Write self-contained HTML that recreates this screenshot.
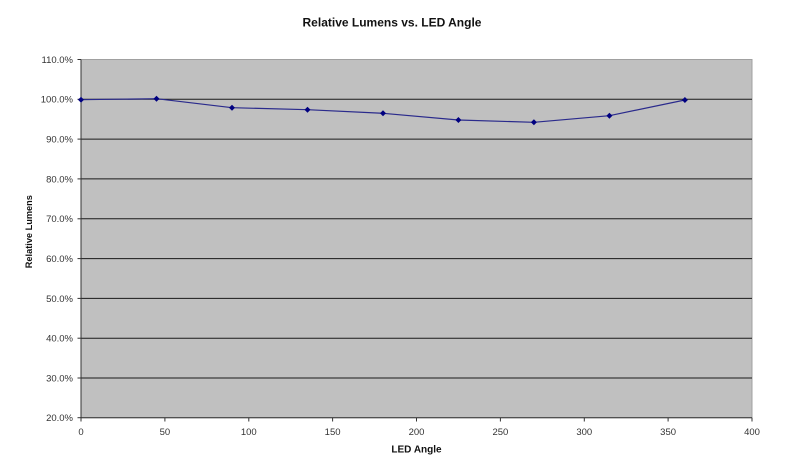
<!DOCTYPE html>
<html><head><meta charset="utf-8"><style>
html,body{margin:0;padding:0;background:#fff;}
svg{display:block;}
text{font-family:"Liberation Sans",Arial,sans-serif;}
</style></head><body>
<svg width="800" height="472" viewBox="0 0 800 472" xmlns="http://www.w3.org/2000/svg">
<rect x="0" y="0" width="800" height="472" fill="#fff"/>
<text x="392" y="26.3" font-size="12" font-weight="bold" text-anchor="middle" fill="#111">Relative Lumens vs. LED Angle</text>
<!-- plot area -->
<rect x="81" y="59.5" width="671" height="358.2" fill="#c0c0c0" stroke="#a0a0a0" stroke-width="1"/>
<g stroke="#1a1a1a" stroke-width="1">
<line x1="81" y1="99.3" x2="752" y2="99.3"/>
<line x1="81" y1="139.1" x2="752" y2="139.1"/>
<line x1="81" y1="178.9" x2="752" y2="178.9"/>
<line x1="81" y1="218.8" x2="752" y2="218.8"/>
<line x1="81" y1="258.6" x2="752" y2="258.6"/>
<line x1="81" y1="298.4" x2="752" y2="298.4"/>
<line x1="81" y1="338.2" x2="752" y2="338.2"/>
<line x1="81" y1="378" x2="752" y2="378"/>
</g>
<!-- axes -->
<g stroke="#333" stroke-width="1">
<line x1="81" y1="59.5" x2="81" y2="417.7"/>
<line x1="81" y1="417.7" x2="752" y2="417.7"/>
<line x1="77.5" y1="59.5" x2="81" y2="59.5"/>
<line x1="77.5" y1="99.3" x2="81" y2="99.3"/>
<line x1="77.5" y1="139.1" x2="81" y2="139.1"/>
<line x1="77.5" y1="178.9" x2="81" y2="178.9"/>
<line x1="77.5" y1="218.8" x2="81" y2="218.8"/>
<line x1="77.5" y1="258.6" x2="81" y2="258.6"/>
<line x1="77.5" y1="298.4" x2="81" y2="298.4"/>
<line x1="77.5" y1="338.2" x2="81" y2="338.2"/>
<line x1="77.5" y1="378" x2="81" y2="378"/>
<line x1="77.5" y1="417.7" x2="81" y2="417.7"/>
<line x1="81" y1="417.7" x2="81" y2="421.5"/>
<line x1="164.9" y1="417.7" x2="164.9" y2="421.5"/>
<line x1="248.8" y1="417.7" x2="248.8" y2="421.5"/>
<line x1="332.6" y1="417.7" x2="332.6" y2="421.5"/>
<line x1="416.5" y1="417.7" x2="416.5" y2="421.5"/>
<line x1="500.4" y1="417.7" x2="500.4" y2="421.5"/>
<line x1="584.3" y1="417.7" x2="584.3" y2="421.5"/>
<line x1="668.1" y1="417.7" x2="668.1" y2="421.5"/>
<line x1="752" y1="417.7" x2="752" y2="421.5"/>
</g>
<!-- y labels -->
<g font-size="9.5" fill="#333" text-anchor="end">
<text x="73" y="62.9">110.0%</text>
<text x="73" y="102.7">100.0%</text>
<text x="73" y="142.5">90.0%</text>
<text x="73" y="182.3">80.0%</text>
<text x="73" y="222.2">70.0%</text>
<text x="73" y="262">60.0%</text>
<text x="73" y="301.8">50.0%</text>
<text x="73" y="341.6">40.0%</text>
<text x="73" y="381.4">30.0%</text>
<text x="73" y="421.1">20.0%</text>
</g>
<!-- x labels -->
<g font-size="9.5" fill="#333" text-anchor="middle">
<text x="81" y="435">0</text>
<text x="164.9" y="435">50</text>
<text x="248.8" y="435">100</text>
<text x="332.6" y="435">150</text>
<text x="416.5" y="435">200</text>
<text x="500.4" y="435">250</text>
<text x="584.3" y="435">300</text>
<text x="668.1" y="435">350</text>
<text x="752" y="435">400</text>
</g>
<text x="416.5" y="452.5" font-size="10" font-weight="bold" text-anchor="middle" fill="#111">LED Angle</text>
<text transform="translate(32,231.7) rotate(-90)" x="0" y="0" font-size="9.2" font-weight="bold" text-anchor="middle" fill="#111">Relative Lumens</text>
<!-- series -->
<polyline fill="none" stroke="#2a2a8c" stroke-width="1.2" points="81,99.7 156.5,98.7 232,107.7 307.5,109.7 383,113.3 458.4,120 533.9,122.3 609.4,115.7 684.9,100"/>
<g fill="#000080">
<polygon points="81,96.7 84,99.7 81,102.7 78,99.7"/>
<polygon points="156.5,95.7 159.5,98.7 156.5,101.7 153.5,98.7"/>
<polygon points="232,104.7 235,107.7 232,110.7 229,107.7"/>
<polygon points="307.5,106.7 310.5,109.7 307.5,112.7 304.5,109.7"/>
<polygon points="383,110.3 386,113.3 383,116.3 380,113.3"/>
<polygon points="458.4,117 461.4,120 458.4,123 455.4,120"/>
<polygon points="533.9,119.3 536.9,122.3 533.9,125.3 530.9,122.3"/>
<polygon points="609.4,112.7 612.4,115.7 609.4,118.7 606.4,115.7"/>
<polygon points="684.9,97 687.9,100 684.9,103 681.9,100"/>
</g>
</svg>
</body></html>
